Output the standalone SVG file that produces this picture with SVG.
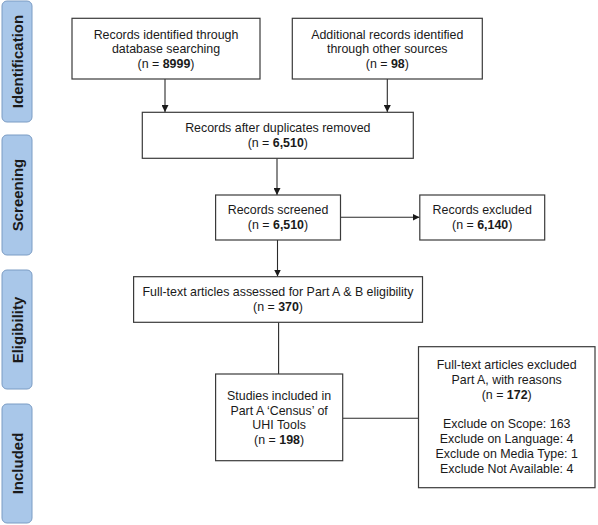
<svg xmlns="http://www.w3.org/2000/svg" width="598" height="525" viewBox="0 0 598 525">
<style>
.bg{fill:#ffffff}
.bar{fill:#a9c7e9;stroke:#7b9cc4;stroke-width:1}
.lab{font-family:"Liberation Sans",Arial,sans-serif;font-weight:bold;font-size:15px;fill:#1a1a1a;text-anchor:middle}
.box{fill:#ffffff;stroke:#3a3a3a;stroke-width:1.2}
.t{font-family:"Liberation Sans",Arial,sans-serif;font-size:12.4px;fill:#1a1a1a;text-anchor:middle}
.b{font-weight:bold}
.ln{stroke:#2a2a2a;stroke-width:1.1;fill:none}
</style>
<defs>
<marker id="ah" viewBox="0 0 10 10" refX="10" refY="5" markerWidth="7" markerHeight="7" markerUnits="userSpaceOnUse" orient="auto">
<path d="M0,0 L10,5 L0,10 z" fill="#1a1a1a"/>
</marker>
</defs>
<rect class="bg" x="0" y="0" width="598" height="525"/>

<g id="phase-identification">
<rect class="bar" x="2" y="1" width="30" height="121" rx="5"/>
<text class="lab" transform="translate(22.5,61.5) rotate(-90)">Identification</text>
</g>
<g id="phase-screening">
<rect class="bar" x="2" y="135" width="30" height="120" rx="5"/>
<text class="lab" transform="translate(22.5,195) rotate(-90)">Screening</text>
</g>
<g id="phase-eligibility">
<rect class="bar" x="2" y="270" width="30" height="119" rx="5"/>
<text class="lab" transform="translate(22.5,330) rotate(-90)">Eligibility</text>
</g>
<g id="phase-included">
<rect class="bar" x="2" y="404" width="30" height="119" rx="5"/>
<text class="lab" transform="translate(22.5,463.5) rotate(-90)">Included</text>
</g>

<g id="connectors">
<line class="ln" x1="165" y1="79" x2="165" y2="112" marker-end="url(#ah)"/>
<line class="ln" x1="387.3" y1="79" x2="387.3" y2="112" marker-end="url(#ah)"/>
<line class="ln" x1="277" y1="158.3" x2="277" y2="195" marker-end="url(#ah)"/>
<line class="ln" x1="340.5" y1="217.3" x2="419.5" y2="217.3" marker-end="url(#ah)"/>
<line class="ln" x1="277.5" y1="240" x2="277.5" y2="276.5" marker-end="url(#ah)"/>
<line class="ln" x1="278.6" y1="322.3" x2="278.6" y2="374"/>
<line class="ln" x1="342.7" y1="418.3" x2="418.5" y2="418.3"/>
</g>

<g id="node-database">
<rect class="box" x="72" y="18.3" width="188" height="60.7"/>
<text class="t" x="166" y="38.5">Records identified through</text>
<text class="t" x="166" y="53.3">database searching</text>
<text class="t" x="166" y="67.5">(n = <tspan class="b">8999</tspan>)</text>
</g>
<g id="node-other">
<rect class="box" x="292.3" y="18.3" width="190" height="60.7"/>
<text class="t" x="387.3" y="38.5">Additional records identified</text>
<text class="t" x="387.3" y="53.3">through other sources</text>
<text class="t" x="387.3" y="67.5">(n = <tspan class="b">98</tspan>)</text>
</g>
<g id="node-duplicates">
<rect class="box" x="142.3" y="112.3" width="271" height="46"/>
<text class="t" x="277.8" y="132.3">Records after duplicates removed</text>
<text class="t" x="277.8" y="146.7">(n = <tspan class="b">6,510</tspan>)</text>
</g>
<g id="node-screened">
<rect class="box" x="215.6" y="195" width="124.9" height="45"/>
<text class="t" x="278" y="214.3">Records screened</text>
<text class="t" x="278" y="229">(n = <tspan class="b">6,510</tspan>)</text>
</g>
<g id="node-excluded">
<rect class="box" x="419.8" y="195" width="124.9" height="45"/>
<text class="t" x="482.2" y="214.3">Records excluded</text>
<text class="t" x="482.2" y="229">(n =  <tspan class="b">6,140</tspan>)</text>
</g>
<g id="node-fulltext">
<rect class="box" x="133.6" y="276.7" width="288.9" height="45.6"/>
<text class="t" x="278" y="295.7" textLength="271" lengthAdjust="spacingAndGlyphs">Full-text articles assessed for Part A &amp; B eligibility</text>
<text class="t" x="278" y="310.7">(n = <tspan class="b">370</tspan>)</text>
</g>
<g id="node-included">
<rect class="box" x="215.6" y="374" width="127.1" height="86.7"/>
<text class="t" x="279.1" y="400">Studies included in</text>
<text class="t" x="279.1" y="415">Part A ‘Census’ of</text>
<text class="t" x="279.1" y="429.3">UHI Tools</text>
<text class="t" x="279.1" y="444">(n = <tspan class="b">198</tspan>)</text>
</g>
<g id="node-excluded-fulltext">
<rect class="box" x="418.5" y="346.7" width="176.5" height="141"/>
<text class="t" x="506.7" y="369.3">Full-text articles excluded</text>
<text class="t" x="506.7" y="384.3">Part A, with reasons</text>
<text class="t" x="506.7" y="399.3">(n = <tspan class="b">172</tspan>)</text>
<text class="t" x="506.7" y="428.3">Exclude on Scope: 163</text>
<text class="t" x="506.7" y="443.3">Exclude on Language: 4</text>
<text class="t" x="506.7" y="458.3">Exclude on Media Type: 1</text>
<text class="t" x="506.7" y="473.3">Exclude Not Available: 4</text>
</g>
</svg>
